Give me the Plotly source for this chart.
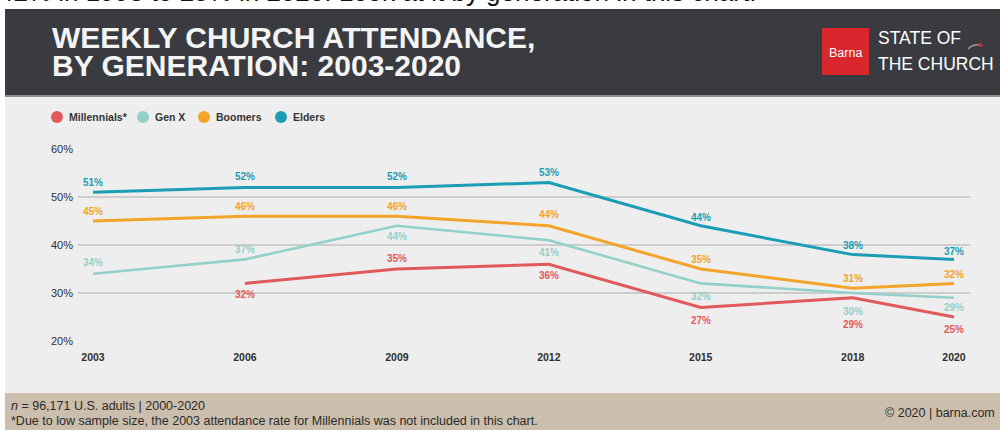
import plotly.graph_objects as go

# ---------------- data ----------------
years = [2003, 2006, 2009, 2012, 2015, 2018, 2020]
year_labels = ["2003", "2006", "2009", "2012", "2015", "2018", "2020"]
millennials = [None, 32, 35, 36, 27, 29, 25]
gen_x = [34, 37, 44, 41, 32, 30, 29]
boomers = [45, 46, 46, 44, 35, 31, 32]
elders = [51, 52, 52, 53, 44, 38, 37]
y_ticks = [20, 30, 40, 50, 60]
y_tick_labels = ["20%", "30%", "40%", "50%", "60%"]
series_names = ["Millennials*", "Gen X", "Boomers", "Elders"]

# ---------------- styles ----------------
W, H = 1000, 430
PL, PR, PT, PB = 78, 970, 149, 341          # plot area in pixels
ppy = (954 - 93) / 17.0                     # pixels per year
x_range = [2003 - 15 / ppy, 2020 + 16 / ppy]

def fx(px):
    return (px - PL) / (PR - PL)

def fy(py):
    return (PB - py) / (PB - PT)

colors = {"Millennials*": "#e05a5c", "Gen X": "#94d0ca",
          "Boomers": "#f3a42a", "Elders": "#1b9db6"}
widths = {"Millennials*": 3, "Gen X": 2.6, "Boomers": 3, "Elders": 3}
label_shift = {
    "Millennials*": [0, -11, 11, -11, -13, -27, -12],
    "Gen X": [11, 10, -11, -12, -13, -18, -10],
    "Boomers": [10, 10, 10, 11, 10, 10, 9],
    "Elders": [10, 11, 11, 10, 8, 9, 8],
}
values = {"Millennials*": millennials, "Gen X": gen_x,
          "Boomers": boomers, "Elders": elders}

ARIAL = "Liberation Sans, Arial, Helvetica, sans-serif"

fig = go.Figure()
for name in ["Gen X", "Millennials*", "Boomers", "Elders"]:
    fig.add_trace(go.Scatter(
        x=years, y=values[name], mode="lines", name=name,
        line=dict(color=colors[name], width=widths[name]),
        connectgaps=False, showlegend=False, hoverinfo="skip"))

annotations = []
# data labels
for name in series_names:
    for xv, yv, sh in zip(years, values[name], label_shift[name]):
        if yv is None:
            continue
        annotations.append(dict(
            x=xv, y=yv, xref="x", yref="y", text=f"{yv}%",
            showarrow=False, yshift=sh, xanchor="center", yanchor="middle",
            font=dict(family=ARIAL, size=10, color=colors[name], weight="bold")))

shapes = []
def rect(x0, y0, x1, y1, color):
    shapes.append(dict(type="rect", xref="paper", yref="paper",
                       x0=fx(x0), x1=fx(x1), y0=fy(y1), y1=fy(y0),
                       fillcolor=color, line=dict(width=0), layer="below"))

rect(5, 9, 1000, 95, "#393b40")
rect(5, 95, 1000, 97, "#8e8e90")
rect(5, 97, 1000, 393, "#efeeee")
rect(5, 393, 1000, 430, "#ccbead")
rect(822, 28, 869, 75, "#d7262c")     # logo red square

# logo swoosh + dot
shapes.append(dict(type="path", xref="paper", yref="paper",
                   path=f"M {fx(968)} {fy(49)} Q {fx(973)} {fy(44)} {fx(980)} {fy(45)}",
                   line=dict(color="#9a9a9c", width=1.5)))
shapes.append(dict(type="circle", xref="paper", yref="paper",
                   x0=fx(978.5), x1=fx(982.5), y0=fy(47), y1=fy(43),
                   fillcolor="#d7262c", line=dict(width=0)))

# legend (manual)
legend_pos = {"Millennials*": 57, "Gen X": 143, "Boomers": 204, "Elders": 281}
for name in series_names:
    cx = legend_pos[name]
    shapes.append(dict(type="circle", xref="paper", yref="paper",
                       x0=fx(cx - 6), x1=fx(cx + 6), y0=fy(123), y1=fy(111),
                       fillcolor=colors[name], line=dict(width=0)))
    annotations.append(dict(x=fx(cx + 10), y=fy(117), xref="paper", yref="paper",
                            text=f"<b>{name}</b>", showarrow=False,
                            xanchor="left", yanchor="middle",
                            font=dict(family=ARIAL, size=10.5, color="#333333")))

# cropped caption at very top
annotations.append(dict(x=fx(-3), y=fy(-8.5), xref="paper", yref="paper",
                        text="42% in 1993 to 25% in 2020. Look at it by generation in this chart.",
                        showarrow=False, xanchor="left", yanchor="middle",
                        font=dict(family=ARIAL, size=26, color="#111111")))

# title
for txt, yy in [("WEEKLY CHURCH ATTENDANCE,", 37), ("BY GENERATION: 2003-2020", 66)]:
    annotations.append(dict(x=fx(50), y=fy(yy), xref="paper", yref="paper",
                            text=f"<b>{txt}</b>", showarrow=False,
                            xanchor="left", yanchor="middle",
                            font=dict(family=ARIAL, size=30, color="#f4f4f4")))

# logo texts
annotations.append(dict(x=fx(845.5), y=fy(53), xref="paper", yref="paper",
                        text="Barna", showarrow=False, xanchor="center", yanchor="middle",
                        font=dict(family=ARIAL, size=12.5, color="#ffffff")))
annotations.append(dict(x=fx(876), y=fy(38), xref="paper", yref="paper",
                        text="STATE OF", showarrow=False, xanchor="left", yanchor="middle",
                        font=dict(family=ARIAL, size=17.5, color="#ffffff")))
annotations.append(dict(x=fx(876), y=fy(64), xref="paper", yref="paper",
                        text="THE CHURCH", showarrow=False, xanchor="left", yanchor="middle",
                        font=dict(family=ARIAL, size=17.5, color="#ffffff")))

# footer
foot = dict(family=ARIAL, size=12.5, color="#2a2a2a")
annotations.append(dict(x=fx(9), y=fy(406), xref="paper", yref="paper",
                        text="<i>n</i> = 96,171 U.S. adults | 2000-2020", showarrow=False,
                        xanchor="left", yanchor="middle", font=foot))
annotations.append(dict(x=fx(9), y=fy(421), xref="paper", yref="paper",
                        text="*Due to low sample size, the 2003 attendance rate for Millennials was not included in this chart.",
                        showarrow=False, xanchor="left", yanchor="middle", font=foot))
annotations.append(dict(x=fx(997), y=fy(413), xref="paper", yref="paper",
                        text="© 2020 | barna.com", showarrow=False,
                        xanchor="right", yanchor="middle", font=foot))

fig.update_layout(
    width=W, height=H,
    margin=dict(l=PL, r=W - PR, t=PT, b=H - PB, pad=0),
    paper_bgcolor="#ffffff", plot_bgcolor="rgba(0,0,0,0)",
    showlegend=False,
    xaxis=dict(range=x_range, tickmode="array", tickvals=years, ticktext=year_labels,
               showgrid=False, zeroline=False, showline=False, ticks="",
               ticklabelstandoff=8,
               tickfont=dict(family=ARIAL, size=10.5, color="#2e2e2e", weight="bold")),
    yaxis=dict(range=[20, 60], tickmode="array", tickvals=y_ticks, ticktext=y_tick_labels,
               showgrid=True, gridcolor="#cdcdcd", gridwidth=1.5, zeroline=False,
               showline=False, ticks="", ticklabelstandoff=4,
               tickfont=dict(family=ARIAL, size=11, color="#2e2e2e")),
    annotations=annotations,
    shapes=shapes,
)

fig.write_html("out.html",
               config={"displayModeBar": False},
               post_script="document.body.style.margin='0';document.body.style.overflow='hidden';")
